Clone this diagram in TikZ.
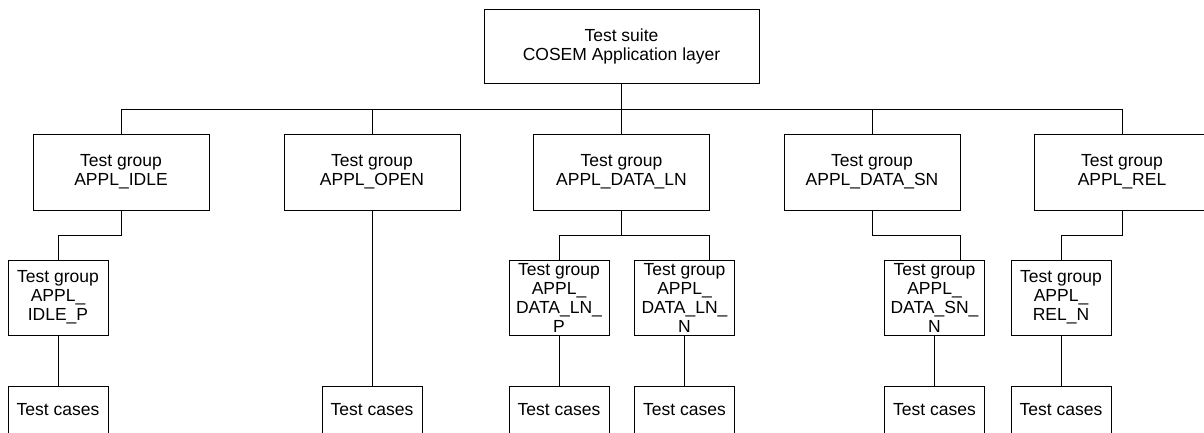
\documentclass[tikz,border=0pt]{standalone}
\usepackage{fontspec}
\setmainfont{Liberation Sans}
\usetikzlibrary{positioning}

\begin{document}
\begin{tikzpicture}[x=1pt, y=-1pt, line width=0.9pt,
    font=\fontsize{17.5}{19}\selectfont,
    grpbox/.style={draw, align=center, inner sep=0pt, minimum width=176pt, minimum height=76pt},
    subbox/.style={draw, align=center, inner sep=0pt, minimum width=100pt, minimum height=75pt},
    casebox/.style={draw, align=center, inner sep=0pt, minimum width=100pt, minimum height=48pt}]

  \useasboundingbox (0,0) rectangle (1204,432);

  %draw suite
  \node[grpbox, minimum width=275pt, minimum height=74pt] (suite) at (621.5,46) {Test suite\\COSEM Application layer};
  \coordinate (bus) at (621.5,109);
  \draw (suite) -- (bus);

  %draw groups
  \def\dy{172};
  \foreach \x/\name/\txt in {121/idle/APPL\_IDLE, 372/open/APPL\_OPEN, 621.5/ln/APPL\_DATA\_LN, 872/sn/APPL\_DATA\_SN, 1122/rel/APPL\_REL}{
      \node[grpbox] (\name) at (\x,\dy) {Test group\\\txt};
      \draw (\name.north) -- (\name.north |- bus);
  }
  \draw (idle.north |- bus) -- (rel.north |- bus);

  %draw sub groups
  \def\dy{297.5};
  \foreach \x/\name/\txt in {58/idlep/{APPL\_\\IDLE\_P}, 559/lnp/{APPL\_\\DATA\_LN\_\\P}, 684.5/lnn/{APPL\_\\DATA\_LN\_\\N}, 934.5/snn/{APPL\_\\DATA\_SN\_\\N}, 1061/reln/{APPL\_\\REL\_N}}{
      \node[subbox] (\name) at (\x,\dy) {Test group\\\txt};
  }

  \draw (idle.south) -- ++(0,25) -| (idlep.north);
  \draw (ln.south) -- ++(0,25) coordinate (lnfork);
  \draw (lnp.north) |- (lnfork) -| ([xshift=24.5pt]lnn.north);
  \draw (sn.south) -- ++(0,25) -| ([xshift=25.5pt]snn.north);
  \draw (rel.south) -- ++(0,25) -| (reln.north);

  %draw test cases
  \def\dy{410};
  \foreach \x/\up/\name in {58/idlep/cidlep, 372/open/copen, 559/lnp/clnp, 684.5/lnn/clnn, 934.5/snn/csnn, 1061/reln/creln}{
      \node[casebox] (\name) at (\x,\dy) {Test cases};
      \draw (\up.south -| \name.north) -- (\name.north);
  }

\end{tikzpicture}
\end{document}
